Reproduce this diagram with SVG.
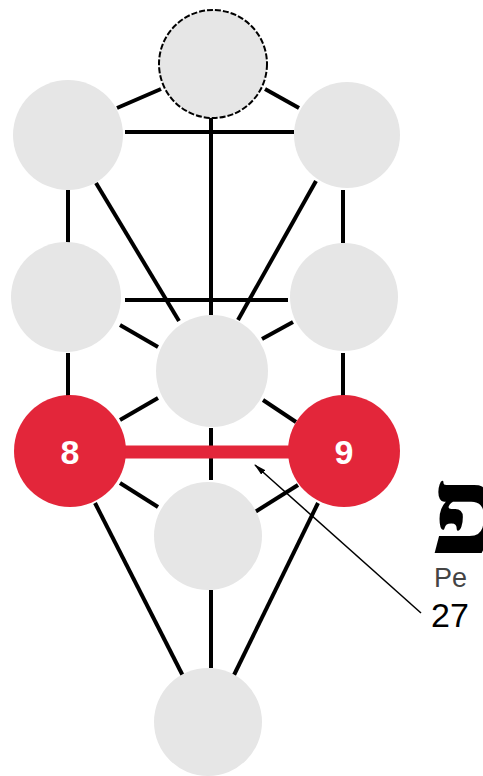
<svg xmlns="http://www.w3.org/2000/svg" width="483" height="776" viewBox="0 0 483 776">
<style>
.ln{stroke:#000;stroke-width:4;fill:none;stroke-linecap:butt}
.nd{fill:#e6e6e6}
.rd{fill:#e3263a}
.num{font-family:"Liberation Sans",Arial,sans-serif;font-weight:bold;font-size:34px;fill:#fff;text-anchor:middle}
</style>
<defs>
<marker id="ah" markerWidth="12" markerHeight="6" refX="11" refY="3" orient="auto" markerUnits="userSpaceOnUse">
<path d="M0,0 L12,3 L0,6 Z" fill="#000"/>
</marker>
</defs>
<rect width="483" height="776" fill="#fff"/>
<g id="connectors">
<line class="ln" x1="117" y1="108" x2="161" y2="89"/>
<line class="ln" x1="265" y1="89" x2="299" y2="108"/>
<line class="ln" x1="125" y1="132" x2="294" y2="132"/>
<line class="ln" x1="211" y1="118" x2="211" y2="315"/>
<line class="ln" x1="68" y1="190" x2="68" y2="243"/>
<line class="ln" x1="343" y1="190" x2="343" y2="243"/>
<line class="ln" x1="96" y1="183" x2="179" y2="321"/>
<line class="ln" x1="316" y1="181" x2="238" y2="320"/>
<line class="ln" x1="125" y1="300" x2="288" y2="300"/>
<line class="ln" x1="120" y1="325" x2="158" y2="347"/>
<line class="ln" x1="293" y1="322" x2="262" y2="339"/>
<line class="ln" x1="68" y1="353" x2="68" y2="396"/>
<line class="ln" x1="343" y1="353" x2="343" y2="396"/>
<line class="ln" x1="158" y1="398" x2="120" y2="420"/>
<line class="ln" x1="263" y1="400" x2="296" y2="422"/>
<line class="ln" x1="211" y1="428" x2="211" y2="480"/>
<line class="ln" x1="120" y1="483" x2="158" y2="507"/>
<line class="ln" x1="298" y1="485" x2="255" y2="512"/>
<line class="ln" x1="95" y1="503" x2="183" y2="676"/>
<line class="ln" x1="318" y1="503" x2="234" y2="675"/>
<line class="ln" x1="211" y1="590" x2="211" y2="668"/>
<line x1="120" y1="452" x2="296" y2="452" stroke="#e3263a" stroke-width="13"/>
<line x1="421" y1="613" x2="255" y2="465" stroke="#000" stroke-width="1.5" marker-end="url(#ah)"/>
</g>
<g id="kether"><circle cx="213" cy="64" r="54" class="nd" stroke="#000" stroke-width="2" stroke-dasharray="6 2"/></g>
<g id="chokmah"><circle cx="68" cy="135" r="55" class="nd"/></g>
<g id="binah"><circle cx="347" cy="135" r="53" class="nd"/></g>
<g id="chesed"><circle cx="66" cy="297" r="55" class="nd"/></g>
<g id="geburah"><circle cx="344" cy="297" r="54" class="nd"/></g>
<g id="tiphareth"><circle cx="212" cy="371" r="56" class="nd"/></g>
<g id="node8"><circle cx="70" cy="451" r="56" class="rd"/><text class="num" x="70" y="464">8</text></g>
<g id="node9"><circle cx="344" cy="451" r="56" class="rd"/><text class="num" x="344" y="464">9</text></g>
<g id="yesod"><circle cx="208" cy="536" r="54" class="nd"/></g>
<g id="malkuth"><circle cx="208" cy="722" r="54" class="nd"/></g>
<g id="label">
<text x="431" y="553" font-family="Liberation Serif,DejaVu Serif,serif" font-weight="bold" font-size="122" fill="#000">פ</text>
<text x="434" y="587" font-family="Liberation Sans,Arial,sans-serif" font-size="27" fill="#444">Pe</text>
<text x="431" y="627" font-family="Liberation Sans,Arial,sans-serif" font-size="34" fill="#000">27</text>
</g>
</svg>
